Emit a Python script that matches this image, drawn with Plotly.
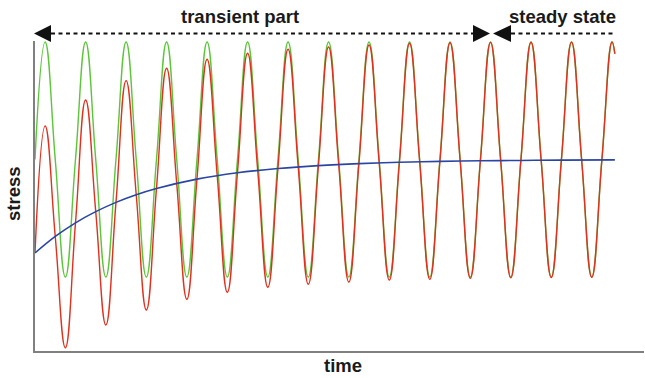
import plotly.graph_objects as go

# ---- data (time in cycles, stress normalised to the steady amplitude) ----
cross_t = [0.0, 0.5, 1.0, 1.5, 2.0, 2.5, 3.0, 3.5, 4.0, 4.5, 5.0, 5.5, 6.0, 6.5, 7.0,
           7.5, 8.0, 8.5, 9.0, 9.5, 10.0, 10.5, 11.0, 11.5, 12.0, 12.5, 13.0, 13.5, 14.0]
peak_t = [0.25, 1.25, 2.25, 3.25, 4.25, 5.25, 6.25, 7.25, 8.25, 9.25, 10.25, 11.25, 12.25, 13.25, 14.25]
trough_t = [0.75, 1.75, 2.75, 3.75, 4.75, 5.75, 6.75, 7.75, 8.75, 9.75, 10.75, 11.75, 12.75, 13.75]
end_t = 14.32

# steady-state response (green)
green_cross = [0.0] * 29
green_peak = [1.0, 1.0, 1.0, 1.0, 1.0, 1.0, 1.0, 1.0, 1.0, 1.0, 1.0, 1.0, 1.0, 1.0, 1.0]
green_trough = [-1.0, -1.0, -1.0, -1.0, -1.0, -1.0, -1.0, -1.0, -1.0, -1.0, -1.0, -1.0, -1.0, -1.0]
green_end = 0.9

# total response with transient (red)
red_cross = [-0.796, -0.655, -0.539, -0.444, -0.365, -0.300, -0.247, -0.204, -0.167, -0.138,
             -0.113, -0.093, -0.077, -0.063, -0.052, -0.043, -0.035, -0.029, -0.024, -0.020,
             -0.016, -0.013, -0.011, -0.009, -0.008, -0.006, -0.005, -0.004, -0.003]
red_peak = [0.285, 0.506, 0.671, 0.776, 0.853, 0.904, 0.938, 0.957, 0.974, 0.989,
            0.994, 0.997, 0.998, 0.999, 1.0]
red_trough = [-1.602, -1.409, -1.281, -1.190, -1.130, -1.088, -1.062, -1.043, -1.026,
              -1.020, -1.011, -1.006, -1.004, -1.002]
red_end = 0.9

# mean stress (blue)
blue_t = [0.0, 0.5, 1.0, 1.5, 2.0, 2.5, 3.0, 4.0, 5.0, 6.0, 7.0, 8.0, 9.0, 10.0, 11.0, 12.0, 13.0, 14.32]
blue_y = [-0.796, -0.655, -0.539, -0.444, -0.365, -0.300, -0.247, -0.167, -0.113, -0.077,
          -0.052, -0.035, -0.024, -0.016, -0.011, -0.008, -0.005, -0.003]


def merge(cy, py, ty, ey):
    pts = list(zip(cross_t, cy)) + list(zip(peak_t, py)) + list(zip(trough_t, ty)) + [(end_t, ey)]
    pts.sort()
    return [p[0] for p in pts], [p[1] for p in pts]


gx, gy = merge(green_cross, green_peak, green_trough, green_end)
rx, ry = merge(red_cross, red_peak, red_trough, red_end)

fig = go.Figure()
fig.add_trace(go.Scatter(x=gx, y=gy, mode="lines", line=dict(color="#5cc53a", width=1.4, shape="spline", smoothing=1.3)))
fig.add_trace(go.Scatter(x=rx, y=ry, mode="lines", line=dict(color="#e0301e", width=1.4, shape="spline", smoothing=1.3)))
fig.add_trace(go.Scatter(x=blue_t, y=blue_y, mode="lines", line=dict(color="#2b45a3", width=1.6, shape="spline")))

W, H = 645, 378
L, R, T, B = 35, 1, 41, 27
PW, PH = W - L - R, H - T - B


def px(x):
    return (x - L) / PW


def py(y):
    return (H - B - y) / PH


font = dict(family="Liberation Sans, Arial, sans-serif", size=18.5, color="#1a1a1a")
common = dict(xref="paper", yref="paper", showarrow=False, font=font, xanchor="center", yanchor="middle")
ann = [
    dict(text="<b>transient part</b>", x=px(240), y=py(16), **common),
    dict(text="<b>steady state</b>", x=px(562), y=py(16), **common),
    dict(text="<b>time</b>", x=px(343), y=py(365), **common),
    dict(text="<b>stress</b>", x=px(13), y=py(194), textangle=-90, **common),
]

ay = 33.5
shapes = [
    dict(type="line", xref="paper", yref="paper", x0=px(51), x1=px(473), y0=py(ay), y1=py(ay),
         line=dict(color="#111111", width=2, dash="4px,3.5px")),
    dict(type="line", xref="paper", yref="paper", x0=px(511), x1=px(614), y0=py(ay), y1=py(ay),
         line=dict(color="#111111", width=2, dash="4px,3.5px")),
]


def tri(tip, base):
    return dict(type="path", xref="paper", yref="paper",
                path=f"M {px(tip)} {py(ay)} L {px(base)} {py(ay - 8.5)} L {px(base)} {py(ay + 8.5)} Z",
                fillcolor="#111111", line=dict(color="#111111", width=0))


shapes += [tri(34, 51), tri(490, 473), tri(493, 511)]

fig.update_layout(
    width=W, height=H, margin=dict(l=L, r=R, t=T, b=B),
    paper_bgcolor="white", plot_bgcolor="white", showlegend=False,
    xaxis=dict(range=[0, 15.04], showgrid=False, zeroline=False, showticklabels=False, ticks="",
               showline=True, linecolor="#808080", linewidth=2),
    yaxis=dict(range=[-1.63, 1.0085], showgrid=False, zeroline=False, showticklabels=False, ticks="",
               showline=True, linecolor="#808080", linewidth=2),
    annotations=ann, shapes=shapes,
)
fig.write_html("out.html", config={"displayModeBar": False},
               post_script="document.body.style.margin='0px';")
